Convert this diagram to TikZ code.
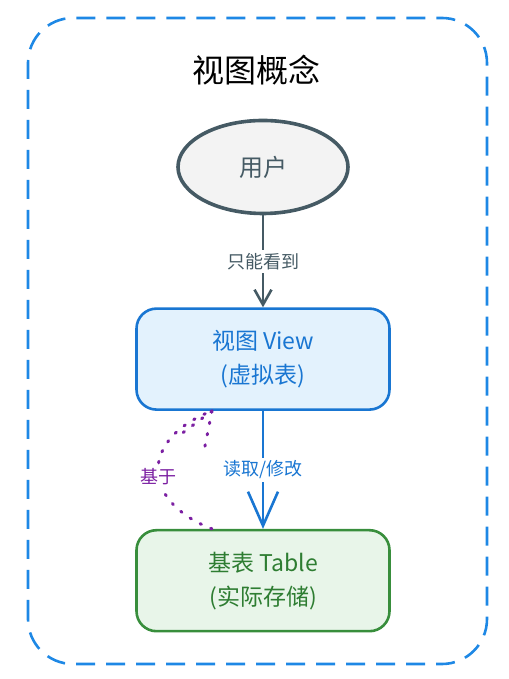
\documentclass[tikz,border=0pt]{standalone}
\usepackage{fontspec}
\setmainfont{Noto Sans CJK SC}
\usetikzlibrary{positioning, arrows.meta, shapes.geometric}

\definecolor{frameblue}{HTML}{1E88E5}
\definecolor{usergray}{HTML}{455A64}
\definecolor{userfill}{HTML}{F3F3F3}
\definecolor{viewblue}{HTML}{1976D2}
\definecolor{viewfill}{HTML}{E3F2FD}
\definecolor{tablegreen}{HTML}{388E3C}
\definecolor{tabletext}{HTML}{2E7D32}
\definecolor{tablefill}{HTML}{E8F5E9}
\definecolor{basepurple}{HTML}{7B1FA2}

\begin{document}
\begin{tikzpicture}[x=1pt,y=1pt,node distance = 92pt,
 box/.style = {rounded corners=20pt, line width=2.6pt, minimum width=253pt, minimum height=101pt,
  align=center, font=\fontsize{23}{34}\selectfont},
 user/.style = {ellipse, draw=usergray, fill=userfill, line width=3.6pt, minimum width=170pt,
  minimum height=93pt, text=usergray, font=\fontsize{24}{28}\selectfont},
 lbl/.style = {fill=white, inner sep=3pt, font=\fontsize{18}{20}\selectfont},
 based/.style = {basepurple, line width=3pt, dash pattern=on 1.5pt off 10pt, line cap=round},
]
\useasboundingbox (0,0) rectangle (508,679);

\draw[frameblue, line width=2.6pt, dash pattern=on 19pt off 11pt, rounded corners=45pt]
  (28,15) rectangle (487,661);

\node (title) at (256,609) {\fontsize{32}{36}\selectfont 视图概念};

\node (user)[user] at (263,512) {用户};
\node (view)[box, draw=viewblue, fill=viewfill, text=viewblue, below=of user] {视图 View\\(虚拟表)};
\node (tab)[box, draw=tablegreen, fill=tablefill, text=tabletext, below=118pt of view] {基表 Table\\(实际存储)};

\draw[usergray, line width=2.6pt, -{Straight Barb[length=15pt,width=17pt]}]
  (user) edge node (see)[lbl, text=usergray] {只能看到} (view);
\draw[viewblue, line width=2.6pt, -{Straight Barb[length=34pt,width=30pt]}]
  (view) edge node (rw)[lbl, text=viewblue] {读取/修改} (tab);

% dotted link, its head drawn in dots too
\coordinate (vb) at ([xshift=-51pt]view.south);
\draw[based]
  ([xshift=-51pt]tab.north) .. controls +(-72,28) and +(-72,-28) .. node (base)[lbl, text=basepurple, pos=0.45] {基于} (vb);
\draw[based] (vb) -- ++(-32,-24);
\draw[based] (vb) -- ++(-8,-40);
\end{tikzpicture}
\end{document}
